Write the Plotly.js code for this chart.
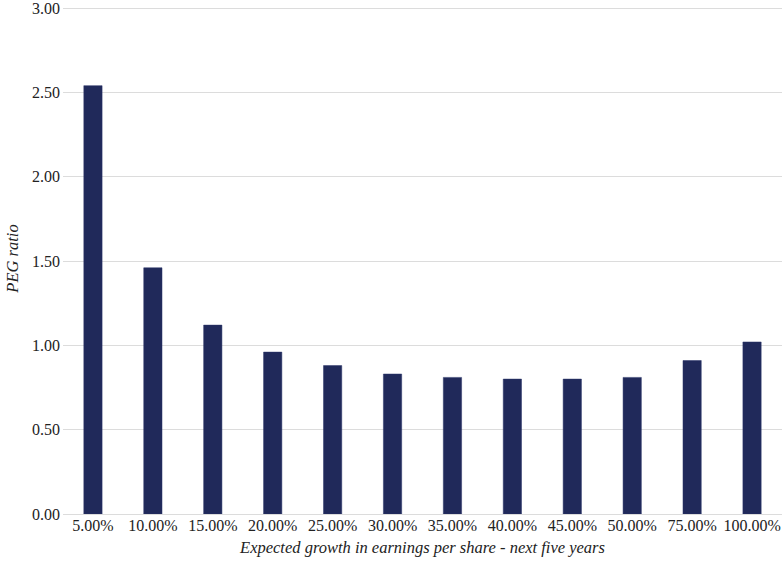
<!DOCTYPE html>
<html>
<head>
<meta charset="utf-8">
<script src="https://cdn.plot.ly/plotly-3.0.1.min.js"></script>
<style>
  html, body { margin: 0; padding: 0; background: #fff; }
  #chart { width: 782px; height: 563px; }
</style>
</head>
<body>
<div id="chart"></div>
<script>
const growth = ['5.00%', '10.00%', '15.00%', '20.00%', '25.00%', '30.00%',
                '35.00%', '40.00%', '45.00%', '50.00%', '75.00%', '100.00%'];
const pegRatio = [2.54, 1.46, 1.12, 0.96, 0.88, 0.83, 0.81, 0.80, 0.80, 0.81, 0.91, 1.02];
const yTicks = [0, 0.5, 1, 1.5, 2, 2.5, 3];

const serif = "'Liberation Serif', 'Times New Roman', Times, serif";

let data = [{
	x: growth,
	y: pegRatio,
	type: 'bar',
	marker: {color: '#20295a', line: {color: '#2b3568', width: 0.5}},
	hoverinfo: 'x+y'
}];

let layout = {
	width: 782,
	height: 563,
	margin: {l: 63, r: 0, t: 3, b: 49},
	paper_bgcolor: '#ffffff',
	plot_bgcolor: '#ffffff',
	bargap: 0.695,
	showlegend: false,
	font: {family: serif, size: 16, color: '#222222'},
	xaxis: {
		type: 'category',
		showgrid: false,
		showline: false,
		ticks: '',
		tickfont: {family: serif, size: 16, color: '#222222'},
		title: {
			text: 'Expected growth in earnings per share - next five years',
			font: {family: serif, size: 16.5, color: '#222222', style: 'italic'},
			standoff: 8
		}
	},
	yaxis: {
		range: [0, 3.03],
		tickvals: yTicks,
		ticktext: yTicks.map(v => v.toFixed(2)),
		ticklabeloverflow: 'allow',
		showgrid: true,
		gridcolor: '#dcdcdc',
		gridwidth: 1,
		zeroline: true,
		zerolinecolor: '#dcdcdc',
		zerolinewidth: 1,
		showline: false,
		ticks: '',
		ticklabelstandoff: 2,
		tickfont: {family: serif, size: 16, color: '#222222'},
		title: {
			text: 'PEG ratio',
			font: {family: serif, size: 16.5, color: '#222222', style: 'italic'},
			standoff: 9
		}
	}
};

Plotly.newPlot('chart', data, layout, {displayModeBar: false, staticPlot: true});
</script>
</body>
</html>
